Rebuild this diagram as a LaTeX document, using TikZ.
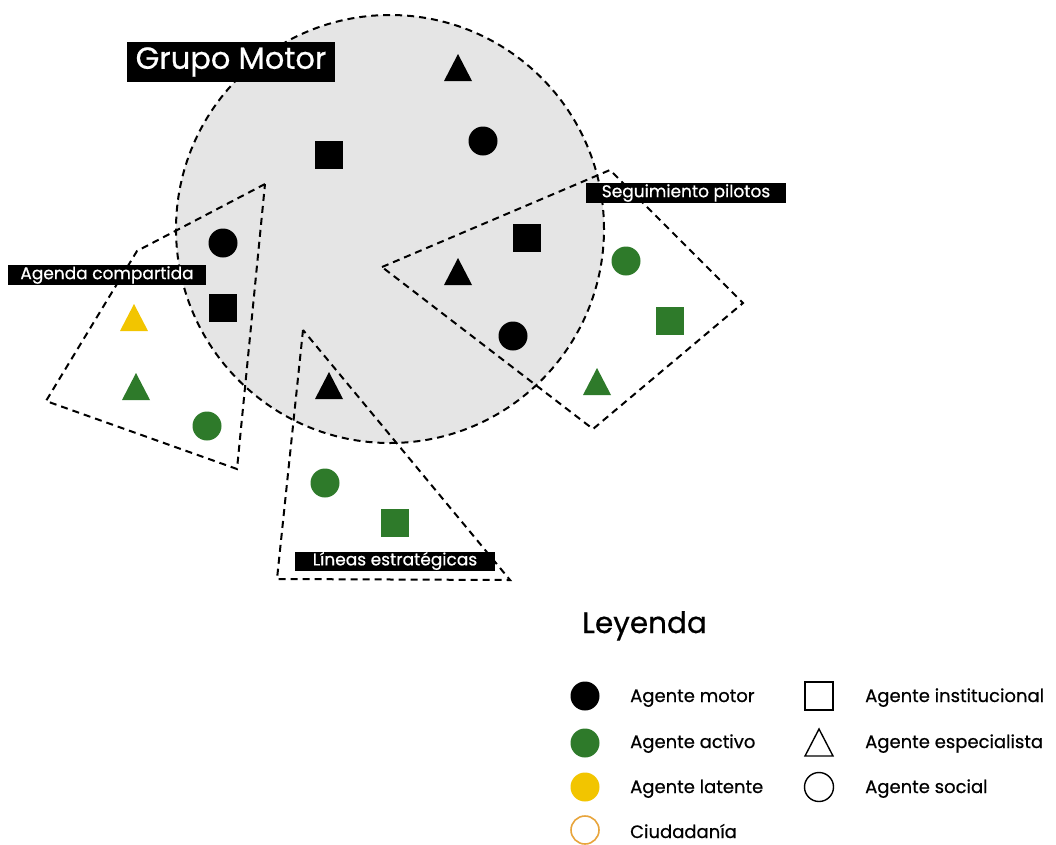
\documentclass[tikz,border=0pt]{standalone}
\usepackage{fontspec}
\setmainfont{Poppins}
\newfontfamily\medfont{Poppins}[FakeBold=0.6]
\usetikzlibrary{shapes.geometric}
\definecolor{agreen}{RGB}{46,122,42}
\definecolor{ayellow}{RGB}{242,197,0}
\definecolor{agray}{RGB}{229,229,229}
\definecolor{aorange}{RGB}{232,165,60}
\tikzset{
  tri/.pic={\path[pic actions] (0,-14) -- (14,13) -- (-14,13) -- cycle;},
}
\begin{document}
\begin{tikzpicture}[x=1pt,y=-1pt,
  dashline/.style={dash pattern=on 7pt off 5pt, line width=2pt},
  dot/.style={circle, minimum size=29pt, inner sep=0pt, fill=#1},
  sq/.style={rectangle, minimum size=28pt, inner sep=0pt, fill=#1},
  tag/.style={fill=black, text=white, inner sep=0pt, font=\medfont\fontsize{17}{17}\selectfont},
  legtext/.style={anchor=base west, inner sep=0pt, font=\medfont\fontsize{18}{18}\selectfont},
]
\useasboundingbox[fill=white] (0,0) rectangle (1056,844);

% Grupo motor circle
\node[circle, minimum size=428pt, inner sep=0pt, fill=agray, draw=black, dashline] (gm) at (390,229) {};

% dashed groups
\coordinate (a1) at (265,184);
\coordinate (a2) at (137,251);
\coordinate (a3) at (46,401);
\coordinate (a4) at (237,469);
\draw[dashline] (a1) -- (a2) -- (a3) -- (a4) -- cycle;

\coordinate (s1) at (382,267);
\coordinate (s2) at (610,170);
\coordinate (s3) at (743,303);
\coordinate (s4) at (593,429);
\draw[dashline] (s1) -- (s2) -- (s3) -- (s4) -- cycle;

\coordinate (l1) at (303,330);
\coordinate (l2) at (277,579);
\coordinate (l3) at (510,580);
\draw[dashline] (l1) -- (l2) -- (l3) -- cycle;

% Grupo motor members
\pic[fill=black] (gmt) at (458,68) {tri};
\node[dot=black] (gmc) at (483,141) {};
\node[sq=black] (gms) at (329,155) {};

% Agenda compartida members
\node[dot=black] (acc) at (223,243) {};
\node[sq=black] (acs) at (223,308) {};
\pic[fill=ayellow] (acy) at (134,318) {tri};
\pic[fill=agreen] (acg) at (136,387) {tri};
\node[dot=agreen] (acgc) at (207,426) {};

% Seguimiento pilotos members
\node[sq=black] (sps) at (527,238) {};
\pic[fill=black] (spt) at (458,272) {tri};
\node[dot=black] (spc) at (513,336) {};
\node[dot=agreen] (spgc) at (626,261) {};
\node[sq=agreen] (spgs) at (670,321) {};
\pic[fill=agreen] (spgt) at (597,382) {tri};

% Lineas estrategicas members
\pic[fill=black] (let) at (329,386) {tri};
\node[dot=agreen] (legc) at (325,483) {};
\node[sq=agreen] (legs) at (395,523) {};

% labels
\node[fill=black, text=white, inner sep=0pt, minimum width=208pt, minimum height=40pt,
      font=\medfont\fontsize{30.5}{30.5}\selectfont] (lgm) at (231,62) {Grupo Motor};
\node[tag, minimum width=198pt, minimum height=20pt] (lac) at (107,275) {Agenda compartida};
\node[tag, minimum width=200pt, minimum height=20pt] (lsp) at (686,193) {Seguimiento pilotos};
\node[tag, minimum width=200pt, minimum height=19pt] (lle) at (395,561) {Líneas estratégicas};

% legend
\node[anchor=base west, inner sep=0pt, font=\medfont\fontsize{29.5}{29.5}\selectfont] (ley) at (582,633) {Leyenda};

\node[dot=black] (k1) at (585,696) {};
\node[dot=agreen] (k2) at (585,743) {};
\node[dot=ayellow] (k3) at (585,787) {};
\node[circle, minimum size=28pt, inner sep=0pt, draw=aorange, line width=1.6pt] (k4) at (585,830) {};
\node[legtext] (t1) at (630,702) {Agente motor};
\node[legtext] (t2) at (630,748) {Agente activo};
\node[legtext] (t3) at (630,793) {Agente latente};
\node[legtext] (t4) at (630,838) {Ciudadanía};

\node[rectangle, minimum size=28pt, inner sep=0pt, draw=black, line width=1.4pt] (k5) at (819,696) {};
\pic[draw=black, line width=1.4pt] (k6) at (819,743) {tri};
\node[circle, minimum size=29pt, inner sep=0pt, draw=black, line width=1.4pt] (k7) at (819,787) {};
\node[legtext] (t5) at (865,702) {Agente institucional};
\node[legtext] (t6) at (865,748) {Agente especialista};
\node[legtext] (t7) at (865,793) {Agente social};
\end{tikzpicture}
\end{document}
